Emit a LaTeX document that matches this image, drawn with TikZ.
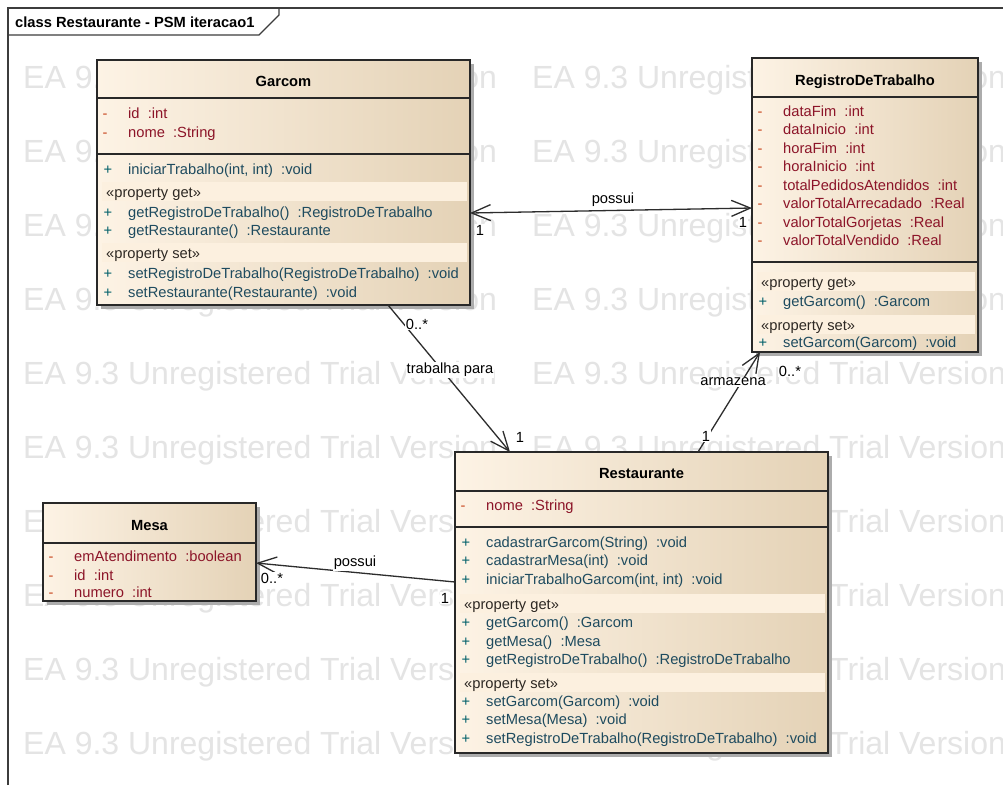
\documentclass[tikz,border=0pt]{standalone}
\usepackage{fontspec}
\newfontfamily\eafont{Liberation Sans}
\usetikzlibrary{arrows.meta}

\definecolor{boxL}{RGB}{253,243,229}
\definecolor{boxR}{RGB}{228,210,182}
\definecolor{bandc}{RGB}{252,240,223}
\definecolor{edgec}{RGB}{40,40,40}
\definecolor{shadowgray}{RGB}{172,172,172}
\definecolor{attrc}{RGB}{140,20,40}
\definecolor{attrs}{RGB}{200,70,30}
\definecolor{opc}{RGB}{30,75,95}
\definecolor{ops}{RGB}{0,95,105}
\definecolor{stc}{RGB}{45,40,35}
\definecolor{wmc}{RGB}{228,228,228}
\definecolor{linec}{RGB}{45,45,45}
\definecolor{framec}{RGB}{60,60,60}

\newcommand\fs{\eafont\fontsize{14.7}{17}\selectfont}
\newcommand\fb{\eafont\bfseries\fontsize{14.7}{17}\selectfont}
\newcommand\wmfont{\eafont\fontsize{32}{36}\selectfont}

% one attribute row: name, box left x, baseline y, text
\newcommand\attrrow[4]{%
  \node[sgn,text=attrs] (#1-s) at (#2+8,#3) {-};
  \node[mtext,text=attrc] (#1) at (#2+31,#3) {#4};}
% one operation row: name, box left x, baseline y, text
\newcommand\oprow[4]{%
  \node[sgn,text=ops] (#1-s) at (#2+11,#3) {+};
  \node[mtext,text=opc] (#1) at (#2+31,#3) {#4};}
% stereotype band: name, box left x, box right x, baseline y, text
\newcommand\stereo[5]{%
  \fill[bandc] (#2+5,#4-15) rectangle (#3-3,#4+4);
  \node[mtext,text=stc] (#1) at (#2+9,#4) {#5};}
% class frame with its shadow: name, x1, y1, width, height
\newcommand\classframe[5]{%
  \fill[shadowgray] (#2+4,#3+4) rectangle (#2+#4+4,#3+#5+4);
  \node[cbox, minimum width=#4pt, minimum height=#5pt] (#1) at (#2,#3) {};}

\begin{document}
\begin{tikzpicture}[x=1pt,y=-1pt,
  >={Straight Barb[length=19pt,width=16pt]},
  cbox/.style={draw=edgec, line width=1.4pt, left color=boxL, right color=boxR,
               inner sep=0pt, outer sep=0pt, anchor=north west},
  div/.style={draw=edgec, line width=1.4pt},
  mtext/.style={anchor=base west, inner sep=0pt, font=\fs},
  sgn/.style={anchor=base, inner sep=0pt, font=\fs},
  ctitle/.style={anchor=base, inner sep=0pt, font=\fb, text=black},
  lbl/.style={fill=white, inner sep=1pt, font=\fs, text=black},
  assoc/.style={draw=linec, line width=1.3pt},
  frameline/.style={draw=framec, line width=1.3pt},
  wmark/.style={anchor=base west, inner sep=0pt, text=wmc, font=\wmfont},
]
\useasboundingbox (0,0) rectangle (1003,785);
\fill[white] (0,0) rectangle (1003,785);

% background stamp text
\begin{scope}
  \clip (0,0) rectangle (1003,785);
  \foreach \r in {0,...,9}{
    \foreach \c in {0,1}{
      \node[wmark] (wm-\r-\c) at (23+509*\c, 88+74.1*\r) {EA 9.3 Unregistered Trial Version};
    }
  }
\end{scope}

% diagram frame and its tab
\draw[frameline] (8,785) -- (8,8) -- (1003,8);
\draw[frameline] (8,35) -- (259,35) -- (279,15) -- (279,8);
\node[anchor=base west, inner sep=0pt, font=\fb] (title) at (15,27) {class Restaurante - PSM iteracao1};

% ---------- Garcom ----------
\classframe{garcom}{97}{60}{373}{245}
\draw[div] (97,98) -- (470,98);
\draw[div] (97,154) -- (470,154);
\node[ctitle] (garcom-t) at (283.5,86) {Garcom};
\attrrow{g-a1}{97}{118}{id~~:int}
\attrrow{g-a2}{97}{137}{nome~~:String}
\oprow{g-o1}{97}{174}{iniciarTrabalho(int, int)~~:void}
\stereo{g-get}{97}{470}{197}{«property get»}
\oprow{g-o2}{97}{217}{getRegistroDeTrabalho()~~:RegistroDeTrabalho}
\oprow{g-o3}{97}{235.5}{getRestaurante()~~:Restaurante}
\stereo{g-set}{97}{470}{258}{«property set»}
\oprow{g-o4}{97}{278}{setRegistroDeTrabalho(RegistroDeTrabalho)~~:void}
\oprow{g-o5}{97}{297}{setRestaurante(Restaurante)~~:void}

% ---------- RegistroDeTrabalho ----------
\classframe{registro}{752}{58}{226}{294}
\draw[div] (752,97) -- (978,97);
\draw[div] (752,262) -- (978,262);
\node[ctitle] (registro-t) at (865,85) {RegistroDeTrabalho};
\attrrow{r-a1}{752}{116}{dataFim~~:int}
\attrrow{r-a2}{752}{134.5}{dataInicio~~:int}
\attrrow{r-a3}{752}{153}{horaFim~~:int}
\attrrow{r-a4}{752}{171.5}{horaInicio~~:int}
\attrrow{r-a5}{752}{190}{totalPedidosAtendidos~~:int}
\attrrow{r-a6}{752}{208.5}{valorTotalArrecadado~~:Real}
\attrrow{r-a7}{752}{227}{valorTotalGorjetas~~:Real}
\attrrow{r-a8}{752}{245.5}{valorTotalVendido~~:Real}
\stereo{r-get}{752}{978}{287}{«property get»}
\oprow{r-o1}{752}{306}{getGarcom()~~:Garcom}
\stereo{r-set}{752}{978}{330}{«property set»}
\oprow{r-o2}{752}{347.5}{setGarcom(Garcom)~~:void}

% ---------- Restaurante ----------
\classframe{restaurante}{455}{452}{373}{301}
\draw[div] (455,491) -- (828,491);
\draw[div] (455,527) -- (828,527);
\node[ctitle] (restaurante-t) at (641.5,478) {Restaurante};
\attrrow{s-a1}{455}{510}{nome~~:String}
\oprow{s-o1}{455}{547}{cadastrarGarcom(String)~~:void}
\oprow{s-o2}{455}{565.5}{cadastrarMesa(int)~~:void}
\oprow{s-o3}{455}{584}{iniciarTrabalhoGarcom(int, int)~~:void}
\stereo{s-get}{455}{828}{609}{«property get»}
\oprow{s-o4}{455}{627}{getGarcom()~~:Garcom}
\oprow{s-o5}{455}{646}{getMesa()~~:Mesa}
\oprow{s-o6}{455}{664}{getRegistroDeTrabalho()~~:RegistroDeTrabalho}
\stereo{s-set}{455}{828}{688}{«property set»}
\oprow{s-o7}{455}{706}{setGarcom(Garcom)~~:void}
\oprow{s-o8}{455}{724.5}{setMesa(Mesa)~~:void}
\oprow{s-o9}{455}{743}{setRegistroDeTrabalho(RegistroDeTrabalho)~~:void}

% ---------- Mesa ----------
\classframe{mesa}{43}{503}{213}{98}
\draw[div] (43,543) -- (256,543);
\node[ctitle] (mesa-t) at (149.5,530) {Mesa};
\attrrow{m-a1}{43}{561}{emAtendimento~~:boolean}
\attrrow{m-a2}{43}{580}{id~~:int}
\attrrow{m-a3}{43}{597.5}{numero~~:int}

% ---------- associations ----------
\draw[assoc,<->] ([yshift=-30.5pt]garcom.east) -- ([yshift=-3pt]registro.west);
\draw[assoc,->] ([xshift=104.5pt]garcom.south) -- ([xshift=-131.5pt]restaurante.north);
\draw[assoc,->] ([xshift=56.5pt]restaurante.north) -- ([xshift=-105pt]registro.south);
\draw[assoc,->] ([yshift=20.5pt]restaurante.west) -- ([yshift=-11pt]mesa.east);

% association names and multiplicities
\node[lbl] (l-possui1) at (613,200) {possui};
\node[lbl] (m-g1) at (480,230) {1};
\node[lbl] (m-r1) at (743,222) {1};
\node[lbl] (m-gr) at (417,324) {0..*};
\node[lbl] (l-trab) at (450,370) {trabalha para};
\node[lbl] (m-rg) at (520,437) {1};
\node[lbl] (l-arm) at (733,382) {armazena};
\node[lbl] (m-ra) at (706,436) {1};
\node[lbl] (m-ar) at (790,371) {0..*};
\node[lbl] (l-possui2) at (355,563) {possui};
\node[lbl] (m-mesa) at (272,578) {0..*};
\node[lbl] (m-rest) at (445,598) {1};
\end{tikzpicture}
\end{document}
